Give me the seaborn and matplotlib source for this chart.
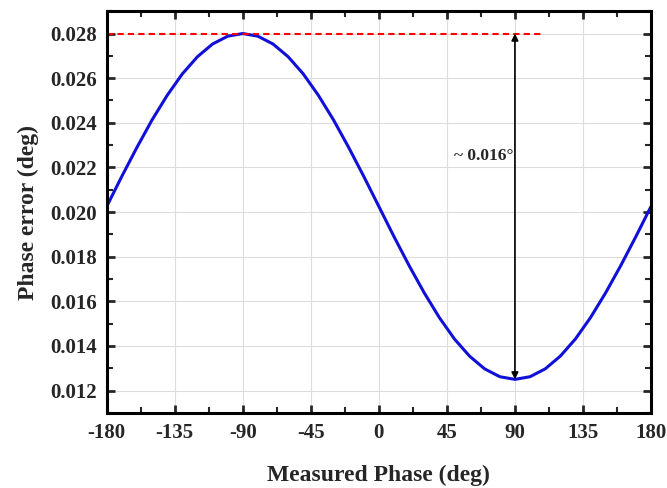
import matplotlib
matplotlib.use("Agg")
import matplotlib.pyplot as plt
from matplotlib.ticker import MultipleLocator
import seaborn as sns
import pandas as pd

# values
phase = [-180, -170, -160, -150, -140, -130, -120, -110, -100, -90,
         -80, -70, -60, -50, -40, -30, -20, -10, 0,
         10, 20, 30, 40, 50, 60, 70, 80, 90,
         100, 110, 120, 130, 140, 150, 160, 170, 180]
phase_err = [0.02025, 0.02160, 0.02290, 0.02413, 0.02523, 0.02619, 0.02696, 0.02753, 0.02788, 0.02800,
             0.02788, 0.02753, 0.02696, 0.02619, 0.02523, 0.02413, 0.02290, 0.02160, 0.02025,
             0.01890, 0.01760, 0.01638, 0.01527, 0.01431, 0.01354, 0.01297, 0.01262, 0.01250,
             0.01262, 0.01297, 0.01354, 0.01431, 0.01527, 0.01638, 0.01760, 0.01890, 0.02025]
max_err = 0.028
min_err = 0.0125
ref_line_x = [-180, 107]
arrow_x = 90
span_label = "~ 0.016°"

xticks = [-180, -135, -90, -45, 0, 45, 90, 135, 180]
yticks = [0.012, 0.014, 0.016, 0.018, 0.020, 0.022, 0.024, 0.026, 0.028]

df = pd.DataFrame({"phase": phase, "err": phase_err})

sns.set_style("ticks")
plt.rcParams["font.family"] = ["Liberation Serif", "DejaVu Serif"]
plt.rcParams["font.weight"] = "bold"

fig = plt.figure(figsize=(6.67, 4.88), dpi=100)
ax = fig.add_axes([0.160, 0.154, 0.816, 0.823])

sns.lineplot(data=df, x="phase", y="err", ax=ax, color="#1010d8", linewidth=2.2)
ax.plot(ref_line_x, [max_err, max_err], color="red", linestyle=(0, (3, 2)), linewidth=1.5)
ax.annotate("", xy=(arrow_x, min_err), xytext=(arrow_x, max_err),
            arrowprops=dict(arrowstyle="<|-|>", color="black", lw=1.2,
                            mutation_scale=10, shrinkA=0, shrinkB=0))
ax.text(arrow_x - 1, 0.0225, span_label, ha="right", va="center", fontsize=12.5, fontweight="bold")

ax.set_xlim(-180, 180)
ax.set_ylim(0.011, 0.029)
ax.set_xticks(xticks)
ax.set_yticks(yticks)
ax.set_xticklabels([str(t) for t in xticks])
ax.set_yticklabels([f"{t:.3f}" for t in yticks])
ax.xaxis.set_minor_locator(MultipleLocator(22.5))
ax.yaxis.set_minor_locator(MultipleLocator(0.001))
ax.grid(True, which="major", color="#dddddd", linewidth=0.8)
ax.set_axisbelow(True)

ax.tick_params(which="both", direction="in", top=True, right=True, labelsize=15, width=2, pad=7)
ax.tick_params(which="major", length=6)
ax.tick_params(which="minor", length=4, width=1.5)
for sp in ax.spines.values():
    sp.set_linewidth(2.2)
    sp.set_color("black")

ax.set_xlabel("Measured Phase (deg)", fontsize=17, fontweight="bold", labelpad=16)
ax.set_ylabel("Phase error (deg)", fontsize=17, fontweight="bold", labelpad=8)

fig.savefig("out.png", dpi=100)
